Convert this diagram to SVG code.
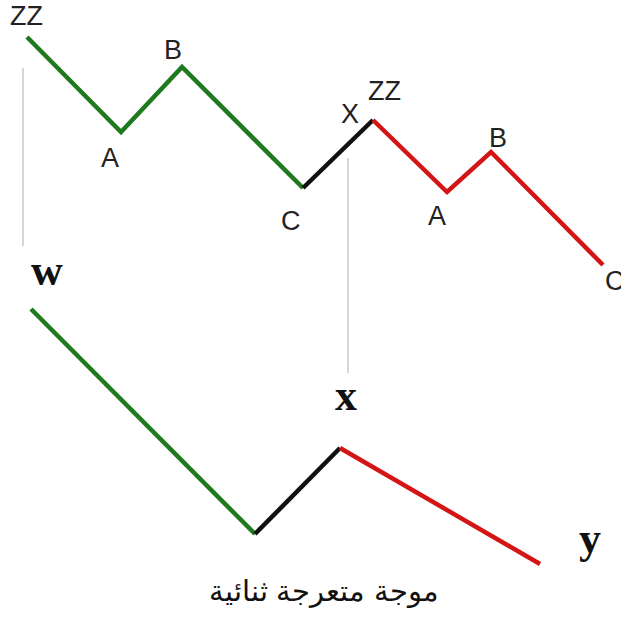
<svg xmlns="http://www.w3.org/2000/svg" width="621" height="624" viewBox="0 0 621 624">
<style>
.lbl{font-family:"Liberation Sans",Arial,sans-serif;font-size:27px;fill:#222}
.big{font-family:"Liberation Serif","Times New Roman",serif;font-size:44px;font-weight:bold;fill:#111}
.g{stroke:#1f7a1f;stroke-width:4.5;fill:none}
.k{stroke:#111;stroke-width:4.5;fill:none}
.r{stroke:#d41515;stroke-width:4.5;fill:none}
.guide{stroke:#bbb;stroke-width:1.2}
</style>
<rect width="621" height="624" fill="#fff"/>
<g id="connectors">
<line class="guide" x1="23" y1="68" x2="23" y2="246"/>
<line class="guide" x1="348" y1="158" x2="348" y2="373"/>
<polyline class="g" points="27,37 121,132 182,67 303,188"/>
<polyline class="k" points="303,188 373,120"/>
<polyline class="r" points="373,120 447,192 491,152 603,265"/>
<polyline class="g" points="31,309 255,534"/>
<polyline class="k" points="255,534 340,448"/>
<polyline class="r" points="340,448 540,564"/>
</g>
<g id="labels-top">
<text class="lbl" x="10" y="25">ZZ</text>
<text class="lbl" x="101" y="167">A</text>
<text class="lbl" x="164" y="59">B</text>
<text class="lbl" x="281" y="230">C</text>
<text class="lbl" x="341" y="123">X</text>
<text class="lbl" x="368" y="100">ZZ</text>
<text class="lbl" x="428" y="225">A</text>
<text class="lbl" x="489" y="147">B</text>
<text class="lbl" x="605" y="290">C</text>
</g>
<g id="labels-bottom">
<text class="big" x="31" y="285">w</text>
<text class="big" x="335" y="410">x</text>
<text class="big" x="579" y="553">y</text>
</g>
<g id="caption">
<text x="324" y="601" text-anchor="middle" style="font-family:'Liberation Sans','Noto Sans',sans-serif;font-size:29px;fill:#111" direction="rtl">موجة متعرجة ثنائية</text>
</g>
</svg>
